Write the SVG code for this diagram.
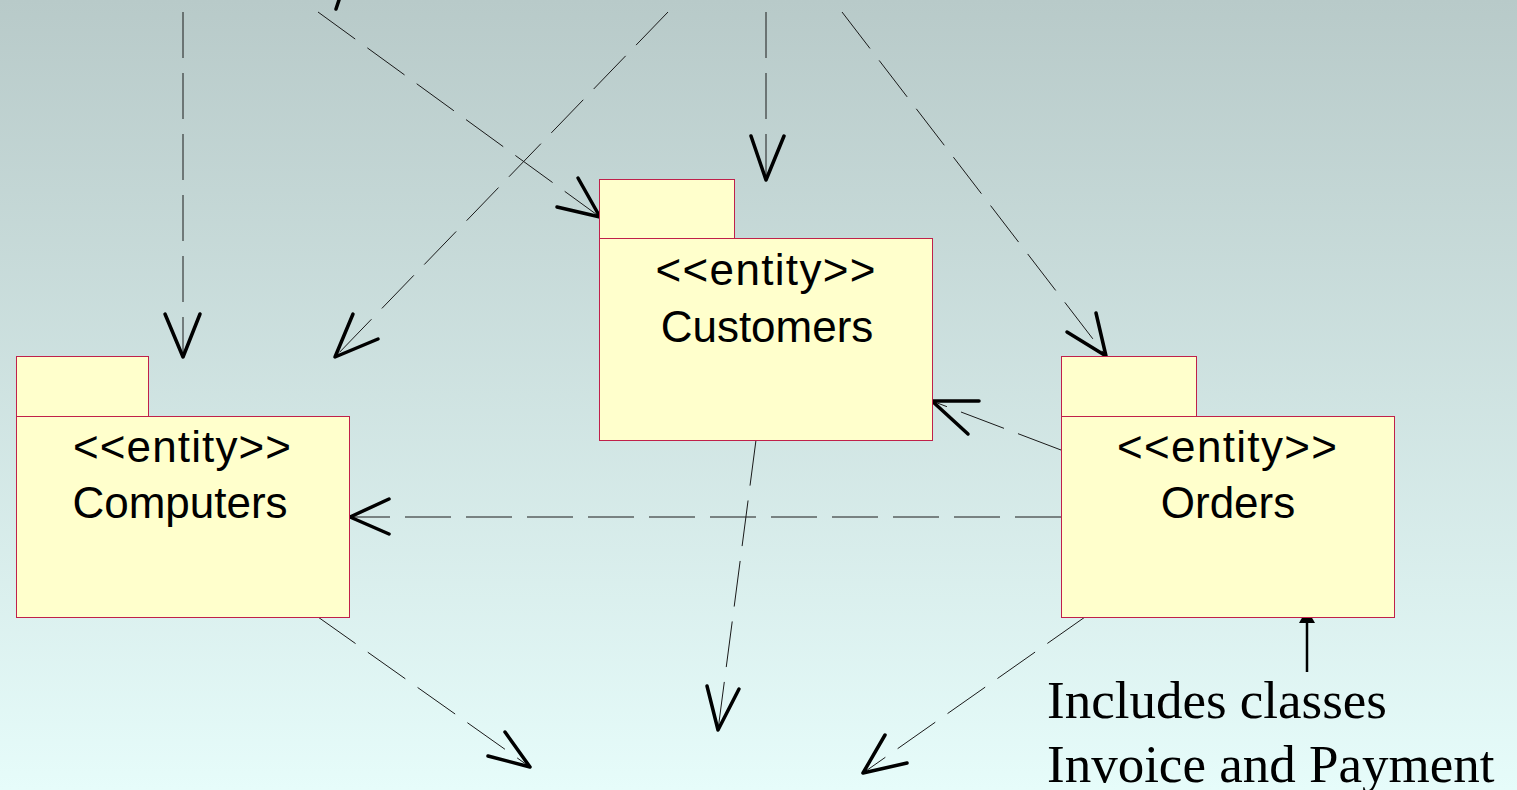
<svg xmlns="http://www.w3.org/2000/svg" width="1517" height="790" viewBox="0 0 1517 790">
  <defs>
    <linearGradient id="bg" x1="0" y1="0" x2="0" y2="1">
      <stop offset="0" stop-color="#b8cac9"/>
      <stop offset="1" stop-color="#e6fcfa"/>
    </linearGradient>
    <marker id="solidHead" viewBox="0 0 14 16" refX="14" refY="8" markerWidth="14" markerHeight="16" markerUnits="userSpaceOnUse" orient="auto">
      <path d="M0,0 L14,8 L0,16 Z" fill="#000"/>
    </marker>
  </defs>
  <style>
    .pkg { fill: #ffffcc; stroke: #c0204a; stroke-width: 1; }
    .lbl { font-family: "Liberation Sans", Arial, sans-serif; font-size: 44px; fill: #000; text-anchor: middle; }
    .dep { fill: none; stroke: #1a1a1a; stroke-width: 1; stroke-dasharray: 46 15; }
    .head { fill: none; stroke: #000; stroke-width: 3.5; stroke-linecap: round; stroke-linejoin: round; }
    .note { font-family: "Liberation Serif", "Times New Roman", serif; font-size: 53px; fill: #000; }
  </style>
  <rect x="0" y="0" width="1517" height="790" fill="url(#bg)"/>

  <g id="connectors">
    <line class="dep" x1="183" y1="12" x2="183" y2="357"/>
    <polyline class="head" points="165,314 183,357 200,314"/>
    <line class="dep" x1="318" y1="12" x2="600" y2="217"/>
    <polyline class="head" points="578,178 600,217 557,207"/>
    <line class="dep" x1="668" y1="12" x2="335" y2="357"/>
    <polyline class="head" points="353,314 335,357 378,339"/>
    <line class="dep" x1="766" y1="12" x2="766" y2="180"/>
    <polyline class="head" points="751,136 766,180 784,136"/>
    <line class="dep" x1="842" y1="12" x2="1106" y2="356"/>
    <polyline class="head" points="1096,313 1106,356 1067,332"/>
    <line class="dep" x1="1061" y1="450" x2="932" y2="401"/>
    <polyline class="head" points="979,401 932,401 968,434"/>
    <line class="dep" x1="1061" y1="517" x2="350" y2="517"/>
    <polyline class="head" points="389,499 350,517 389,534"/>
    <line class="dep" x1="318" y1="617" x2="530" y2="767"/>
    <polyline class="head" points="505,732 530,767 488,756"/>
    <line class="dep" x1="756" y1="440" x2="718" y2="730"/>
    <polyline class="head" points="707,686 718,730 739,689"/>
    <line class="dep" x1="1085" y1="617" x2="863" y2="773"/>
    <polyline class="head" points="885,735 863,773 907,763"/>
    <line class="head" x1="339" y1="0" x2="336" y2="9" stroke-width="4.5"/>
    <line x1="1307" y1="672" x2="1307" y2="609" stroke="#000" stroke-width="2.5" marker-end="url(#solidHead)"/>
  </g>

  <g id="computers">
    <rect class="pkg" x="16.5" y="356.5" width="132" height="60"/>
    <rect class="pkg" x="16.5" y="416.5" width="333" height="201"/>
    <text class="lbl" x="182" y="462" textLength="218" lengthAdjust="spacing">&lt;&lt;entity&gt;&gt;</text>
    <text class="lbl" x="180" y="518">Computers</text>
  </g>

  <g id="customers">
    <rect class="pkg" x="599.5" y="179.5" width="135" height="59"/>
    <rect class="pkg" x="599.5" y="238.5" width="333" height="202"/>
    <text class="lbl" x="765.5" y="285" textLength="220" lengthAdjust="spacing">&lt;&lt;entity&gt;&gt;</text>
    <text class="lbl" x="767" y="342">Customers</text>
  </g>

  <g id="orders">
    <rect class="pkg" x="1061.5" y="356.5" width="135" height="60"/>
    <rect class="pkg" x="1061.5" y="416.5" width="333" height="201"/>
    <text class="lbl" x="1227" y="462" textLength="220" lengthAdjust="spacing">&lt;&lt;entity&gt;&gt;</text>
    <text class="lbl" x="1228" y="518">Orders</text>
  </g>

  <g id="note">
    <text class="note" x="1047" y="718">Includes classes</text>
    <text class="note" x="1047" y="782">Invoice and Payment</text>
  </g>
</svg>
